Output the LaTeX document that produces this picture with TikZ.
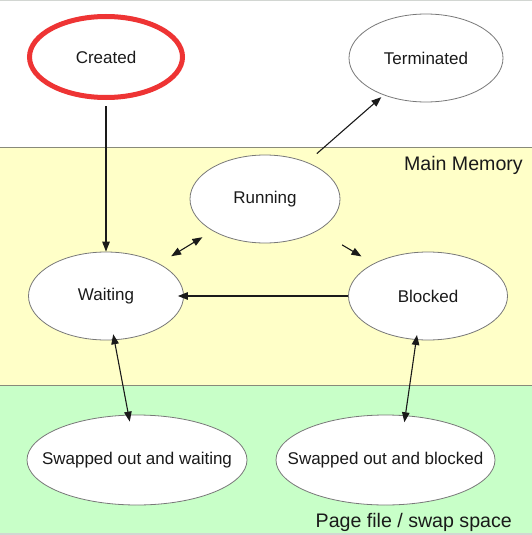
\documentclass[tikz,border=0pt]{standalone}
\usepackage{fontspec}
\setmainfont{Liberation Sans}
\usetikzlibrary{arrows.meta,shapes.geometric}

\definecolor{memfill}{RGB}{255,255,200}
\definecolor{swapfill}{RGB}{200,255,200}
\definecolor{bandline}{RGB}{136,138,122}
\definecolor{framegray}{RGB}{210,214,210}
\definecolor{stategray}{RGB}{120,120,120}
\definecolor{hilite}{RGB}{238,52,52}
\definecolor{ink}{RGB}{26,26,26}

\begin{document}
\begin{tikzpicture}[x=1pt,y=-1pt,
  state/.style={ellipse, draw=stategray, line width=0.8pt, fill=white,
    inner xsep=-25pt, inner ysep=0pt, text=ink,
    font=\fontsize{17}{20}\selectfont},
  created/.style={state, draw=hilite, line width=5pt},
  region/.style={anchor=base east, inner sep=0pt, text=ink,
    font=\fontsize{19.6}{23}\selectfont},
  conn/.style={draw=ink, line width=1.1pt,
    -{Triangle[length=10pt,width=7.5pt]}},
  biconn/.style={draw=ink, line width=1.1pt,
    {Triangle[length=10pt,width=7.5pt]}-{Triangle[length=10pt,width=7.5pt]}},
  bandedge/.style={draw=bandline, line width=1.4pt}]

\useasboundingbox (0,0) rectangle (532,535);

% memory regions
\fill[white] (0,0) rectangle (532,147.5);
\fill[memfill] (0,147.5) rectangle (532,385.5);
\fill[swapfill] (0,385.5) rectangle (532,533);
\draw[framegray, line width=1.2pt] (0,0.6) -- (532,0.6);
\draw[framegray, line width=2pt] (0,534) -- (532,534);
\draw[bandedge] (0,147.5) -- (532,147.5);
\draw[bandedge] (0,385.5) -- (532,385.5);

\node[region] (mainmem) at (523,170) {Main Memory};
\node[region] (swapspace) at (512,527) {Page file / swap space};

% process states
\node[created, minimum width=153pt, minimum height=81pt] (cr) at (106,57) {Created};
\node[state, minimum width=154pt, minimum height=88pt] (tm) at (426,58) {Terminated};
\node[state, minimum width=150pt, minimum height=88pt] (rn) at (265,199) {Running};
\node[state, minimum width=155pt, minimum height=88pt] (wt) at (106,296) {Waiting};
\node[state, minimum width=159pt, minimum height=88pt] (bl) at (428,296) {Blocked};
\node[state, minimum width=220pt, minimum height=90pt] (sw) at (137,460) {Swapped out and waiting};
\node[state, minimum width=219pt, minimum height=90pt] (sb) at (385.5,460) {Swapped out and blocked};

% transitions
\draw[conn, shorten <=6pt] (cr) -- (wt);
\draw[conn, shorten <=13pt, shorten >=3pt] (rn) -- (tm);
\draw[biconn, shorten <=12pt, shorten >=14pt] (rn) -- (wt);
\draw[conn, shorten <=28pt, shorten >=14pt] (rn) -- (bl);
\draw[conn, shorten >=-6pt] (bl) -- (wt);
\draw[biconn, shorten <=-6pt, shorten >=-7pt] (wt) -- (sw);
\draw[biconn, shorten <=-5pt, shorten >=-7pt] (bl.-105) -- (sb.66);

\end{tikzpicture}
\end{document}
